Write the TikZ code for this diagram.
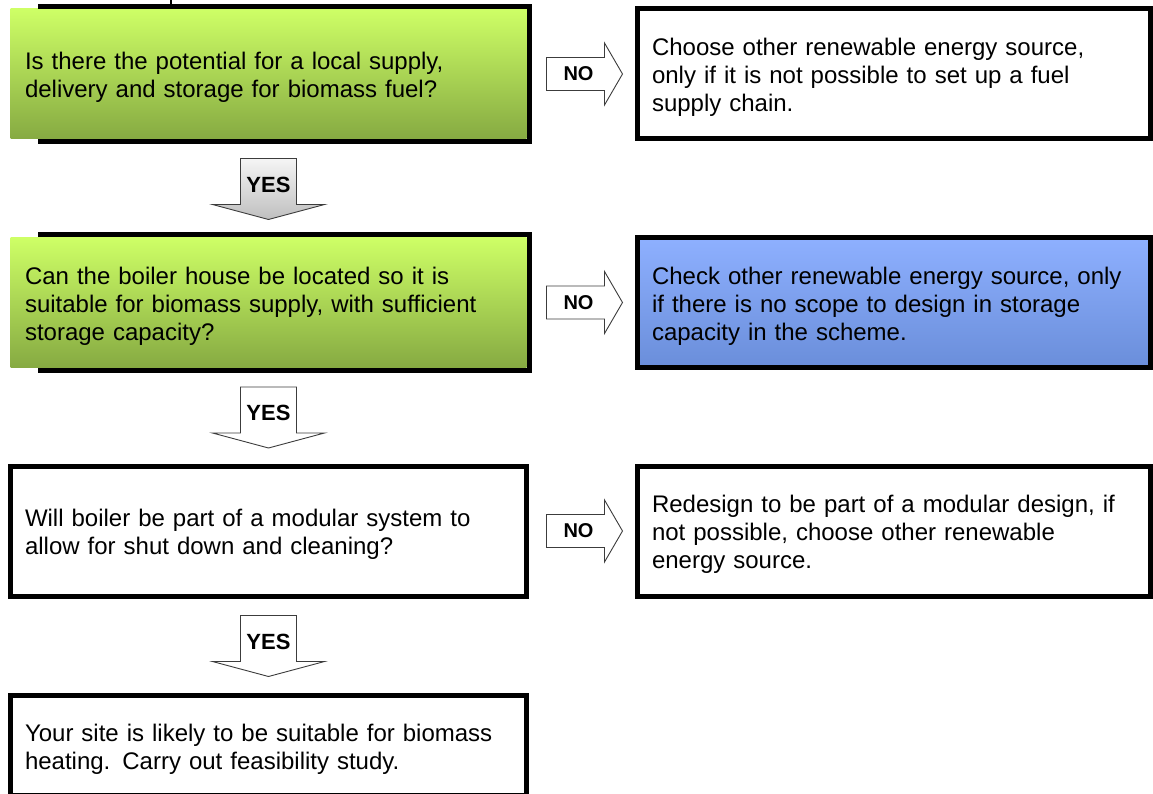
\documentclass[tikz,border=0pt]{standalone}
\usepackage{fontspec}
\setmainfont{Liberation Sans}

\definecolor{greentop}{RGB}{206,255,102}
\definecolor{greenbot}{RGB}{134,170,66}
\definecolor{bluetop}{RGB}{142,176,255}
\definecolor{bluebot}{RGB}{106,142,218}
\definecolor{arrowline}{RGB}{60,60,60}

\tikzset{
  box/.style={rectangle, minimum width=516pt, minimum height=130pt, text width=487pt,
    inner xsep=14.5pt, inner ysep=0pt, align=left, line width=5pt,
    font=\fontsize{24}{28}\selectfont, execute at begin node=\rule{0pt}{24pt}},
  answer/.style={box, draw=black, fill=white},
  question/.style={box, top color=greentop, bottom color=greenbot},
  arrowbody/.style={draw=arrowline, line width=0.9pt, line join=miter},
  arrowtext/.style={inner sep=0pt, font=\bfseries\fontsize{22}{22}\selectfont},
  yesarrow/.pic={
    \draw[arrowbody,#1] (-28,0) -- (28,0) -- (28,46) -- (56,46) -- (0,61)
      -- (-56,46) -- (-28,46) -- cycle;
    \node[arrowtext] (-label) at (0,26) {YES};
  },
  noarrow/.pic={
    \draw[arrowbody,#1] (0,-16.5) -- (58,-16.5) -- (58,-31) -- (76,0) -- (58,31)
      -- (58,16.5) -- (0,16.5) -- cycle;
    \node[arrowtext, font=\bfseries\fontsize{20}{20}\selectfont] (-label) at (32,0) {NO};
  }
}

\begin{document}
\begin{tikzpicture}[x=1pt, y=-1pt, line join=miter]
  \def\lx{268.5} \def\rx{894}
  \clip (0,0) rectangle (1153,794);
  % left column: questions
  \node[question] (q1) at (\lx,74) {Is there the potential for a local supply,\\ delivery and storage for biomass fuel?};
  \node[question] (q2) at (\lx,302.5) {Can the boiler house be located so it is\\ suitable for biomass supply, with sufficient\\ storage capacity?};
  \node[answer] (q3) at (\lx,531) {Will boiler be part of a modular system to\\ allow for shut down and cleaning?};
  \node[answer, minimum height=100pt] (q4) at (\lx,745.5) {Your site is likely to be suitable for biomass\\ heating. Carry out feasibility study.};
  % right column
  \node[answer, minimum width=513pt, text width=484pt] (a1) at (\rx,74) {Choose other renewable energy source,\\ only if it is not possible to set up a fuel\\ supply chain.};
  \node[box, draw=black, top color=bluetop, bottom color=bluebot, minimum width=513pt, text width=484pt] (a2) at (\rx,302.5) {Check other renewable energy source, only\\ if there is no scope to design in storage\\ capacity in the scheme.};
  \node[answer, minimum width=513pt, text width=484pt] (a3) at (\rx,531) {Redesign to be part of a modular design, if\\ not possible, choose other renewable\\ energy source.};
  % green boxes are open on the left
  \foreach \q in {q1,q2}
    \draw[line width=5pt] ([xshift=30pt]\q.north west) -| (\q.south east) -- ([xshift=30pt]\q.south west);
  \coordinate (stub) at (171,0);
  \draw[line width=1.5pt] (stub) -- (stub |- q1.north);
  % block arrows
  \pic (y1) at ([yshift=-17pt]q1.south) {yesarrow={top color=gray!8, bottom color=gray!50}};
  \pic (y2) at ([yshift=-17pt]q2.south) {yesarrow={fill=white}};
  \pic (y3) at ([yshift=-17pt]q3.south) {yesarrow={fill=white}};
  \foreach \r in {1,2,3}
    \pic (n\r) at ([xshift=17.5pt]q\r.east) {noarrow={fill=white}};
\end{tikzpicture}
\end{document}
